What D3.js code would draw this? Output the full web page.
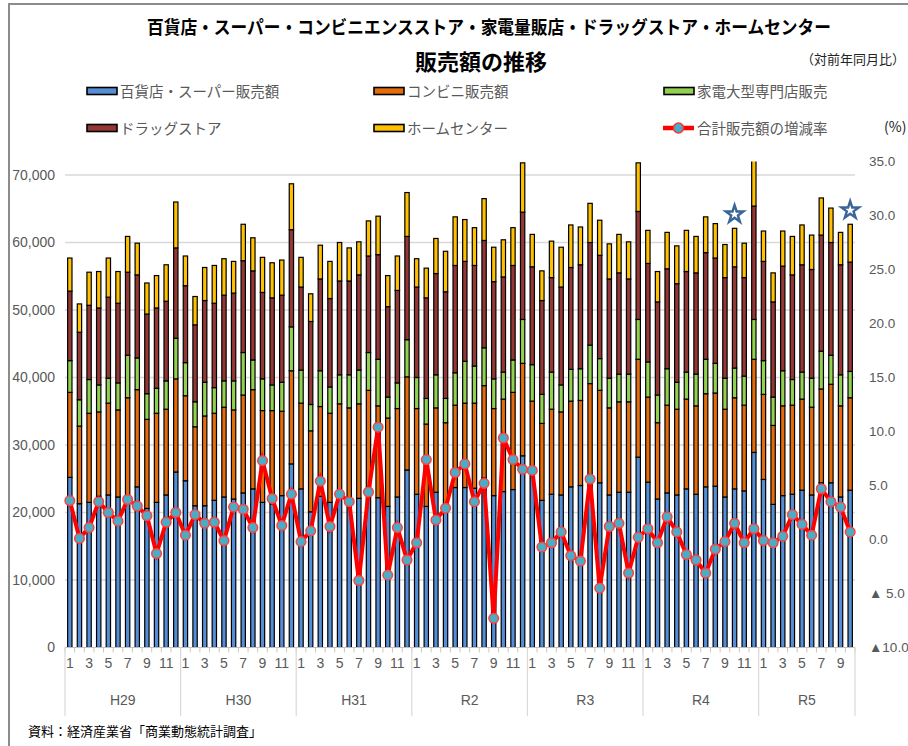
<!DOCTYPE html>
<html>
<head>
<meta charset="utf-8">
<script src="https://cdn.jsdelivr.net/npm/d3@7"></script>
<style>
  body { margin: 0; background: #fff; }
  svg { display: block; font-family: "Noto Sans CJK JP", "Noto Sans", sans-serif; }
</style>
</head>
<body>
<div id="chart"></div>
<script>
// 年区分と月数
const yearLabels = ["H29", "H30", "H31", "R2", "R3", "R4", "R5"];
const monthsInYear = [12, 12, 12, 12, 12, 12, 10];

const seriesNames = ["百貨店・スーパー販売額", "コンビニ販売額", "家電大型専門店販売", "ドラッグストア", "ホームセンター"];
const seriesColors = ["#558ed5", "#e46c0a", "#92d050", "#953735", "#ffc000"];
const lineName = "合計販売額の増減率";

// 販売額（億円）
const dept = [25200,21300,21500,22400,22600,22300,22100,23800,20600,21500,22600,26000,
  24700,21000,21000,21800,22300,22000,22900,23500,21500,21300,22500,27200,
  23500,20100,22400,21500,22600,21600,22100,23100,22200,20900,22300,26300,
  22700,20900,23000,21100,23700,23700,23600,25100,22500,23100,23400,28400,
  25800,21800,22700,22600,23800,24000,25300,24400,22600,23000,23000,28200,
  24500,22000,22900,22600,23500,22700,23800,23900,22300,23500,23200,28900,
  24900,21200,22500,22700,23300,22600,24400,24400,22300,23300];
const cvs = [12600,11500,13200,12500,13600,12900,14900,14400,13200,13200,12700,13800,
  12600,11700,13300,12900,13300,13200,14500,14700,13600,13800,12500,13800,
  12700,12000,13300,13200,13500,13900,14000,15000,13600,13100,13100,13800,
  12700,12200,12500,12200,12200,12500,12600,13700,12900,13700,14400,13700,
  10700,11400,12600,12300,12700,12600,13800,13700,12900,13400,13400,14500,
  12600,11300,13000,12700,13300,13100,13800,13800,13000,13500,12700,13800,
  12600,11700,13300,13200,13500,13000,13900,14600,13500,13700];
const elec = [4700,3900,5000,4000,3700,4000,6300,4700,3800,3700,4200,6000,
  4900,3700,5000,3800,3900,4300,6300,4400,4700,3800,4300,6500,
  4900,3900,5300,3900,4300,4900,5000,5600,6900,3100,3800,5500,
  4600,3800,4900,3600,4800,6200,5500,5600,4400,4000,4800,6500,
  5400,4300,5500,4000,4700,4700,5700,4700,4400,4100,4100,5900,
  5200,4100,5400,4000,4000,4700,5100,4400,4600,4400,4300,5900,
  5000,4200,5200,3800,4000,4300,5600,4300,4600,3900];
const drug = [10300,10000,11000,11400,12000,11800,12300,12300,11800,11900,11800,13400,
  11400,11400,12100,12500,12700,13000,13600,13200,12800,12900,12900,14400,
  12300,12300,13600,13100,13900,13900,14100,14300,15500,13400,13700,15300,
  13400,14900,15000,15800,15900,14800,14900,15900,14400,14100,14000,15900,
  14500,13900,14000,14500,15100,15400,15200,15300,14700,15000,14100,16000,
  14600,13800,14800,14600,14900,15000,15800,15600,14900,15000,14600,16800,
  14700,14100,15500,15500,15900,16100,17200,16700,16300,16200];
const home = [4900,4200,4900,5400,5800,4700,5300,4700,4600,4800,5400,6800,
  4400,4200,4900,5600,5400,4700,5400,4900,5200,5200,5200,6800,
  4400,4100,5000,5500,5700,4900,4900,5200,5700,4600,5100,6500,
  4200,4400,5200,6000,7200,6200,5600,6200,5100,5500,5600,7300,
  4800,4400,5400,5900,6300,5600,5800,5200,5200,5700,5500,7200,
  4900,4500,5400,5600,6100,5400,5300,5100,4900,5700,5100,7200,
  4500,4300,5200,5700,5900,5100,5500,5100,4800,5600];

// 合計販売額の増減率（対前年同月比 %）
const rate = [3.6,0.1,1.1,3.5,2.5,1.7,3.7,3.1,2.2,-1.3,1.6,2.5,
  0.4,2.3,1.5,1.6,-0.1,3.0,2.8,1.1,7.3,3.8,1.3,4.2,
  -0.2,0.8,5.4,1.2,4.2,3.5,-3.8,4.4,10.4,-3.3,1.1,-1.9,
  -0.3,7.4,1.8,2.9,6.2,7.0,3.5,5.2,-7.3,9.4,7.4,6.5,
  6.4,-0.7,-0.3,0.7,-1.5,-2.0,5.6,-4.5,1.2,1.5,-3.1,0.2,
  1.0,-0.3,2.1,0.7,-1.4,-1.9,-3.1,-0.9,-0.2,1.5,-0.3,1.0,
  -0.1,-0.3,0.3,2.3,1.4,0.4,4.7,3.5,3.0,0.7];

const leftTicks = [0, 10000, 20000, 30000, 40000, 50000, 60000, 70000];
const rightTicks = [-10, -5, 0, 5, 10, 15, 20, 25, 30, 35];
const starIndex = [69, 81];   // ☆印の月

// ---- layout
const W = 908, H = 746;
const plot = {left: 65, right: 855, top: 161.5, bottom: 647.5};
const grey = "#595959";

// categories
const cats = [];
yearLabels.forEach((y, yi) => {
  for (let m = 1; m <= monthsInYear[yi]; m++) cats.push({year: y, month: m});
});
const rows = cats.map((c, i) => ({i: i, dept: dept[i], cvs: cvs[i], elec: elec[i], drug: drug[i], home: home[i]}));
const keys = ["dept", "cvs", "elec", "drug", "home"];
const stacked = d3.stack().keys(keys)(rows);

const x = d3.scaleBand()
  .domain(d3.range(cats.length))
  .range([plot.left, plot.right])
  .paddingInner(0.55)
  .paddingOuter(0.275);
const step = x.step(), bw = x.bandwidth();
const cx = i => x(i) + bw / 2;

const yL = d3.scaleLinear().domain([0, 72000]).range([plot.bottom, plot.top]);
const yR = d3.scaleLinear().domain([-10, 35]).range([plot.bottom, plot.top]);

const svg = d3.select("#chart").append("svg").attr("width", W).attr("height", H);

// frame
svg.append("path").attr("d", "M9," + H + "V4H" + W)
  .attr("fill", "none").attr("stroke", "#8c8c8c").attr("stroke-width", 2);

// title
svg.append("text").attr("x", 489).attr("y", 34).attr("text-anchor", "middle")
  .attr("font-size", 18.5).attr("font-weight", "bold").attr("fill", "#000")
  .attr("textLength", 684).attr("lengthAdjust", "spacingAndGlyphs")
  .text("百貨店・スーパー・コンビニエンスストア・家電量販店・ドラッグストア・ホームセンター");
svg.append("text").attr("x", 481).attr("y", 70).attr("text-anchor", "middle")
  .attr("font-size", 22).attr("font-weight", "bold").attr("fill", "#000")
  .text("販売額の推移");
svg.append("text").attr("x", 801).attr("y", 64)
  .attr("font-size", 13).attr("fill", "#222")
  .text("（対前年同月比）");
svg.append("text").attr("x", 884).attr("y", 132)
  .attr("font-size", 14).attr("fill", "#222").text("(%)");

// legend
const legendPos = [[86, 91], [373, 91], [663, 91], [86, 128], [373, 128]];
seriesNames.forEach((name, k) => {
  const g = svg.append("g").attr("transform", "translate(" + legendPos[k][0] + "," + legendPos[k][1] + ")");
  g.append("rect").attr("x", 1).attr("y", -3.5).attr("width", 30).attr("height", 7)
    .attr("fill", seriesColors[k]).attr("stroke", "#000").attr("stroke-width", 1.6);
  g.append("text").attr("x", 34).attr("y", 5.5).attr("font-size", 14.5).attr("fill", grey).text(name);
});
{
  const g = svg.append("g").attr("transform", "translate(663,128)");
  g.append("line").attr("x1", 0).attr("x2", 31).attr("stroke", "#ff0000").attr("stroke-width", 4.5);
  g.append("circle").attr("cx", 15.5).attr("r", 5).attr("fill", "#4bacc6").attr("stroke", "#ff3030").attr("stroke-width", 1.5);
  g.append("text").attr("x", 34).attr("y", 5.5).attr("font-size", 14.5).attr("fill", grey).text(lineName);
}

// gridlines
svg.append("g").selectAll("line").data(leftTicks.filter(d => d > 0)).join("line")
  .attr("x1", plot.left).attr("x2", plot.right)
  .attr("y1", d => yL(d)).attr("y2", d => yL(d))
  .attr("stroke", "#d9d9d9").attr("stroke-width", 1.3);

// axes labels
svg.append("g").attr("transform", "translate(" + plot.left + ",0)")
  .call(d3.axisLeft(yL).tickValues(leftTicks).tickFormat(d3.format(",")).tickSize(0).tickPadding(10))
  .call(g => g.select(".domain").remove())
  .selectAll("text").attr("font-size", 14).attr("fill", grey).attr("font-family", "'Liberation Sans', Arial, sans-serif");

svg.append("g").attr("transform", "translate(" + plot.right + ",0)")
  .call(d3.axisRight(yR).tickValues(rightTicks)
    .tickFormat(d => d < 0 ? "▲" + (Math.abs(d) < 10 ? " " : "") + Math.abs(d).toFixed(1) : d.toFixed(1))
    .tickSize(0).tickPadding(14))
  .call(g => g.select(".domain").remove())
  .selectAll("text").attr("font-size", 13.5).attr("fill", grey).attr("font-family", "'Liberation Sans', Arial, sans-serif");

// clip
svg.append("clipPath").attr("id", "plotclip").append("rect")
  .attr("x", plot.left - 5).attr("y", plot.top).attr("width", plot.right - plot.left + 10).attr("height", plot.bottom - plot.top);

// bars
const barG = svg.append("g").attr("clip-path", "url(#plotclip)");
barG.selectAll("g").data(stacked).join("g")
  .attr("fill", (d, k) => seriesColors[k])
  .selectAll("rect").data(d => d).join("rect")
    .attr("x", d => x(d.data.i))
    .attr("y", d => yL(d[1]))
    .attr("width", bw)
    .attr("height", d => yL(d[0]) - yL(d[1]))
    .attr("stroke", "#000").attr("stroke-width", 1.2);

// x axis line and ticks
svg.append("line").attr("x1", plot.left).attr("x2", plot.right)
  .attr("y1", plot.bottom).attr("y2", plot.bottom).attr("stroke", "#bfbfbf").attr("stroke-width", 1.2);
svg.append("g").selectAll("line").data(d3.range(cats.length + 1)).join("line")
  .attr("x1", i => plot.left + i * step).attr("x2", i => plot.left + i * step)
  .attr("y1", plot.bottom).attr("y2", plot.bottom + 5)
  .attr("stroke", "#c8c8c8").attr("stroke-width", 1);

// month labels
svg.append("g").attr("transform", "translate(0," + plot.bottom + ")")
  .call(d3.axisBottom(x).tickValues(d3.range(cats.length).filter(i => cats[i].month % 2 === 1))
    .tickFormat(i => cats[i].month).tickSize(0).tickPadding(11))
  .call(g => g.select(".domain").remove())
  .selectAll("text").attr("font-size", 14).attr("fill", grey).attr("font-family", "'Liberation Sans', Arial, sans-serif");

// year groups
let start = 0;
const groups = yearLabels.map((y, yi) => {
  const g = {label: y, from: start, to: start + monthsInYear[yi]};
  start += monthsInYear[yi];
  return g;
});
const sepIdx = [0].concat(groups.map(g => g.to));
svg.append("g").selectAll("line").data(sepIdx).join("line")
  .attr("x1", i => plot.left + i * step).attr("x2", i => plot.left + i * step)
  .attr("y1", plot.bottom).attr("y2", 716)
  .attr("stroke", "#d9d9d9").attr("stroke-width", 1.2);
svg.append("g").selectAll("text").data(groups).join("text")
  .attr("x", g => plot.left + (g.from + g.to) / 2 * step)
  .attr("y", 705).attr("text-anchor", "middle")
  .attr("font-size", 14).attr("fill", grey).attr("font-family", "'Liberation Sans', Arial, sans-serif")
  .text(g => g.label);

// rate line
svg.append("path").datum(d3.range(cats.length))
  .attr("d", d3.line().x(i => cx(i)).y(i => yR(rate[i])))
  .attr("fill", "none").attr("stroke", "#ff0000").attr("stroke-width", 4)
  .attr("stroke-linejoin", "miter").attr("stroke-miterlimit", 6);
svg.append("g").selectAll("circle").data(d3.range(cats.length)).join("circle")
  .attr("cx", i => cx(i)).attr("cy", i => yR(rate[i])).attr("r", 4.8)
  .attr("fill", "#4bacc6").attr("stroke", "#ff4040").attr("stroke-width", 1.5);

// stars
const totals = rows.map(r => r.dept + r.cvs + r.elec + r.drug + r.home);
svg.append("g").selectAll("path").data(starIndex).join("path")
  .attr("transform", i => "translate(" + cx(i) + "," + (yL(totals[i]) - 14) + ")")
  .attr("d", d3.symbol().type(d3.symbolStar).size(95))
  .attr("fill", "#ffffff").attr("stroke", "#3a6598").attr("stroke-width", 2.4);

// source
svg.append("text").attr("x", 28).attr("y", 736)
  .attr("font-size", 13).attr("fill", "#000")
  .text("資料：経済産業省「商業動態統計調査」");
</script>
</body>
</html>
